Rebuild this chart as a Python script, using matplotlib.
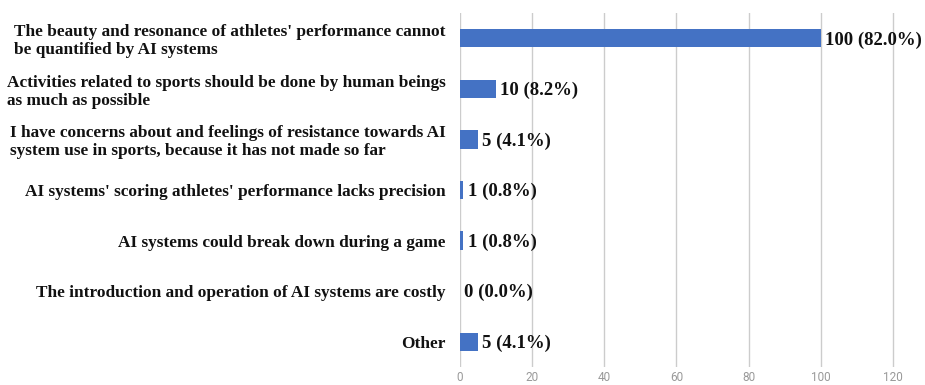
import matplotlib.pyplot as plt

categories = [
    "The beauty and resonance of athletes' performance cannot\nbe quantified by AI systems",
    "Activities related to sports should be done by human beings\nas much as possible",
    "I have concerns about and feelings of resistance towards AI\nsystem use in sports, because it has not made so far",
    "AI systems' scoring athletes' performance lacks precision",
    "AI systems could break down during a game",
    "The introduction and operation of AI systems are costly",
    "Other",
]
counts = [100, 10, 5, 1, 1, 0, 5]
percents = [82.0, 8.2, 4.1, 0.8, 0.8, 0.0, 4.1]
xticks = [0, 20, 40, 60, 80, 100, 120]


def main():
    fig = plt.figure(figsize=(9.25, 3.85), dpi=100)
    ax = fig.add_axes([0.497, 0.047, 0.488, 0.919])

    ypos = list(range(len(categories)))
    ax.barh(ypos, counts, height=0.36, color="#4472C4",
            linewidth=0, zorder=3)

    for y, c, p in zip(ypos, counts, percents):
        ax.text(c + 1.2, y + 0.03, f"{c} ({p:.1f}%)", va="center", ha="left",
                family="Liberation Serif", fontweight="bold", fontsize=13.5,
                color="#111111", zorder=4)

    ax.set_xlim(0, 125)
    ax.set_ylim(len(categories) - 0.5, -0.5)
    ax.set_xticks(xticks)
    ax.set_xticklabels([str(t) for t in xticks], family="Roboto",
                       fontsize=8.5, color="#999999")
    ax.set_yticks(ypos)
    ax.set_yticklabels(categories, family="Liberation Serif",
                       fontweight="bold", fontsize=12.4, color="#111111",
                       linespacing=1.15)
    for lbl in ax.get_yticklabels():
        lbl.set_multialignment("left")

    ax.grid(axis="x", color="#CCCCCC", linewidth=1.0, zorder=0)
    ax.tick_params(axis="both", length=0)
    ax.tick_params(axis="y", pad=10)
    ax.tick_params(axis="x", pad=3)
    for s in ["top", "right", "bottom", "left"]:
        ax.spines[s].set_visible(False)

    fig.savefig("out.png", dpi=100)


if __name__ == "__main__":
    main()
